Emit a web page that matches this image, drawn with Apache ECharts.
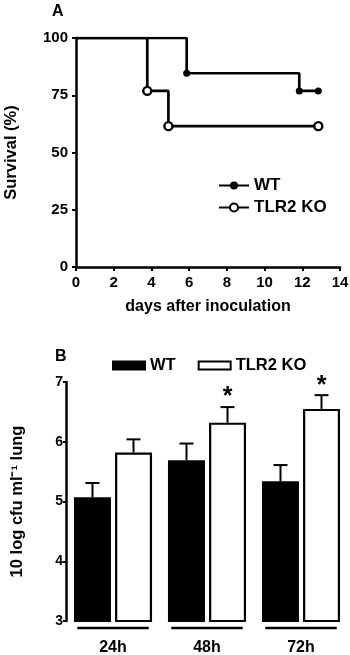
<!doctype html>
<html lang="en">
<head>
<meta charset="UTF-8">
<script src="https://cdn.jsdelivr.net/npm/echarts@6/dist/echarts.min.js"></script>
<title>Survival and lung cfu</title>
<style>
  body { margin: 0; background: #fff; }
  #top { width: 350px; height: 320px; }
  #bottom { width: 350px; height: 335px; }
</style>
</head>
<body>
<div id="top"></div>
<div id="bottom"></div>
<script>
// panel A: Kaplan-Meier survival
var wtDays = [0, 5.87, 11.84, 12.85];
var wtSurv = [100, 84.6, 76.9, 76.9];
var koDays = [0, 3.78, 4.9, 12.85];
var koSurv = [100, 76.9, 61.5, 61.5];

// panel B: lung bacterial load
var times = ['24h', '48h', '72h'];
var wtMean = [5.07, 5.69, 5.34];
var wtErr = [0.24, 0.28, 0.27];
var koMean = [5.82, 6.32, 6.55];
var koErr = [0.22, 0.26, 0.23];
var sig = ['', '*', '*'];

var FONT = '"Liberation Sans", Arial, sans-serif';
function txt(size) {
    return { color: '#000', fontFamily: FONT, fontWeight: 'bold', fontSize: size };
}

function pts(xs, ys) {
    var out = [];
    for (var i = 0; i < xs.length; i++) {
        var p = { value: [xs[i], ys[i]] };
        if (i === 0) p.symbol = 'none';
        out.push(p);
    }
    return out;
}

var chartA = echarts.init(document.getElementById('top'));
chartA.setOption({
    animation: false,
    title: { text: 'A', left: 52, top: 4, padding: 0, textStyle: txt(16) },
    grid: { left: 76, right: 10, top: 38, bottom: 53, containLabel: false, outerBoundsMode: 'none' },
    legend: {
        orient: 'vertical', left: 218, top: 177, padding: 0, itemWidth: 30, itemHeight: 10, itemGap: 5,
        textStyle: txt(17), data: ['WT', 'TLR2 KO']
    },
    xAxis: {
        type: 'value', min: 0, max: 14, interval: 2,
        name: 'days after inoculation', nameLocation: 'middle', nameGap: 32, nameTextStyle: txt(16),
        axisLine: { lineStyle: { color: '#000', width: 2.5 } },
        axisTick: { length: 4, lineStyle: { color: '#000', width: 2 } },
        axisLabel: Object.assign({ margin: 8 }, txt(15)),
        splitLine: { show: false }
    },
    yAxis: {
        type: 'value', min: 0, max: 100, interval: 25,
        name: 'Survival (%)', nameLocation: 'middle', nameGap: 56, nameTextStyle: txt(16.5),
        axisLine: { show: true, lineStyle: { color: '#000', width: 2.5 } },
        axisTick: { show: true, length: 4, lineStyle: { color: '#000', width: 2 } },
        axisLabel: Object.assign({ margin: 8 }, txt(15)),
        splitLine: { show: false }
    },
    series: [
        {
            name: 'WT', type: 'line', step: 'end', data: pts(wtDays, wtSurv),
            symbol: 'circle', symbolSize: 7, showAllSymbol: true,
            lineStyle: { color: '#000', width: 2.7 },
            itemStyle: { color: '#000', borderColor: '#000', borderWidth: 0 }
        },
        {
            name: 'TLR2 KO', type: 'line', step: 'end', data: pts(koDays, koSurv),
            symbol: 'circle', symbolSize: 8, showAllSymbol: true,
            lineStyle: { color: '#000', width: 2.7 },
            itemStyle: { color: '#fff', borderColor: '#000', borderWidth: 2.4 }
        }
    ]
});

var chartB = echarts.init(document.getElementById('bottom'));

function errSeries(means, errs, off, marks) {
    return {
        type: 'custom', clip: false, silent: true, z: 5,
        data: means.map(function (m, i) { return [i, m, m + errs[i]]; }),
        renderItem: function (params, api) {
            var base = api.coord([api.value(0), api.value(1)]);
            var top = api.coord([api.value(0), api.value(2)]);
            var x = base[0] + off;
            var kids = [
                { type: 'line', shape: { x1: x, y1: base[1], x2: x, y2: top[1] }, style: { stroke: '#000', lineWidth: 2 } },
                { type: 'line', shape: { x1: x - 7, y1: top[1], x2: x + 7, y2: top[1] }, style: { stroke: '#000', lineWidth: 2 } }
            ];
            var s = marks ? marks[params.dataIndex] : '';
            if (s) {
                kids.push({ type: 'text', style: { text: s, x: x, y: top[1] - 22, align: 'center', verticalAlign: 'top',
                    fill: '#000', font: 'bold 25px ' + FONT } });
            }
            return { type: 'group', children: kids };
        }
    };
}

chartB.setOption({
    animation: false,
    title: { text: 'B', left: 55, top: 29, padding: 0, textStyle: txt(16) },
    grid: { left: 66, right: 2, top: 62, bottom: 34, containLabel: false, outerBoundsMode: 'none' },
    legend: {
        left: 112, top: 37, padding: 0, itemWidth: 32, itemHeight: 8, itemGap: 22, icon: 'rect',
        textStyle: txt(16.5), data: ['WT', 'TLR2 KO']
    },
    xAxis: {
        type: 'category', data: times,
        axisLine: { show: false }, axisTick: { show: false },
        axisLabel: Object.assign({ margin: 19 }, txt(16))
    },
    yAxis: {
        type: 'value', min: 3, max: 7, interval: 1,
        name: '10 log cfu ml\u207B\u00B9 lung', nameLocation: 'middle', nameGap: 40, nameTextStyle: txt(16.5),
        axisLine: { show: true, lineStyle: { color: '#000', width: 2.5 } },
        axisTick: { show: true, length: 3, lineStyle: { color: '#000', width: 2 } },
        axisLabel: Object.assign({ margin: 3 }, txt(14)),
        splitLine: { show: false }
    },
    series: [
        {
            name: 'WT', type: 'bar', data: wtMean, barWidth: 37, barGap: '11%',
            itemStyle: { color: '#000', borderColor: '#000', borderWidth: 2 }
        },
        {
            name: 'TLR2 KO', type: 'bar', data: koMean, barWidth: 37,
            itemStyle: { color: '#fff', borderColor: '#000', borderWidth: 2.2 }
        },
        errSeries(wtMean, wtErr, -20.5, null),
        errSeries(koMean, koErr, 20.5, sig),
        {
            // group underlines below each time point
            type: 'custom', clip: false, silent: true,
            data: times.map(function (t, i) { return [i, 3]; }),
            renderItem: function (params, api) {
                var c = api.coord([api.value(0), api.value(1)]);
                var w = api.size([1, 0])[0] * 0.76;
                return { type: 'line', shape: { x1: c[0] - w / 2, y1: c[1] + 7, x2: c[0] + w / 2, y2: c[1] + 7 },
                    style: { stroke: '#000', lineWidth: 2.5 } };
            }
        }
    ]
});
</script>
</body>
</html>
